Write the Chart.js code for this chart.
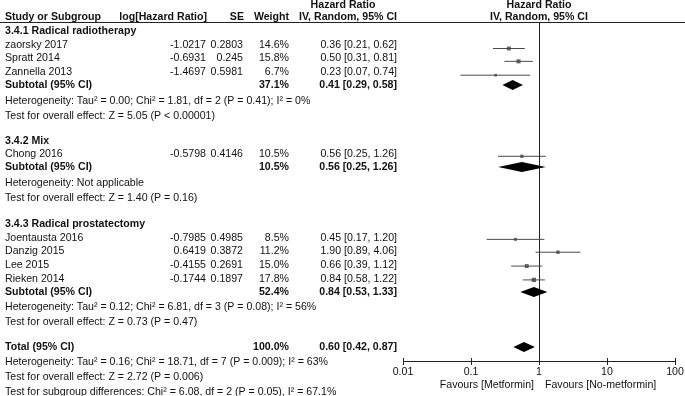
<!DOCTYPE html>
<html>
<head>
<meta charset="utf-8">
<script src="https://cdn.jsdelivr.net/npm/chart.js@4.4.1/dist/chart.umd.min.js"></script>
<style>
  html, body { margin: 0; padding: 0; background: #fff; }
  #wrap { width: 685px; height: 396px; position: relative; }
</style>
</head>
<body>
<div id="wrap"><canvas id="forest"></canvas></div>
<script>
// dados do forest plot
const studies = ["zaorsky 2017", "Spratt 2014", "Zannella 2013", "Chong 2016",
  "Joentausta 2016", "Danzig 2015", "Lee 2015", "Rieken 2014"];
const studyGroup = [0, 0, 0, 1, 2, 2, 2, 2];
const logHR = ["-1.0217", "-0.6931", "-1.4697", "-0.5798", "-0.7985", "0.6419", "-0.4155", "-0.1744"];
const seVals = ["0.2803", "0.245", "0.5981", "0.4146", "0.4985", "0.3872", "0.2691", "0.1897"];
const weights = [14.6, 15.8, 6.7, 10.5, 8.5, 11.2, 15.0, 17.8];
const hr = [0.36, 0.50, 0.23, 0.56, 0.45, 1.90, 0.66, 0.84];
const ciLow = [0.21, 0.31, 0.07, 0.25, 0.17, 0.89, 0.39, 0.58];
const ciHigh = [0.62, 0.81, 0.74, 1.26, 1.20, 4.06, 1.12, 1.22];

const subgroups = ["3.4.1 Radical radiotherapy", "3.4.2 Mix", "3.4.3 Radical prostatectomy"];
const subWeight = [37.1, 10.5, 52.4];
const subHR = [0.41, 0.56, 0.84];
const subLow = [0.29, 0.25, 0.53];
const subHigh = [0.58, 1.26, 1.33];
const subHet = [
  "Heterogeneity: Tau\u00b2 = 0.00; Chi\u00b2 = 1.81, df = 2 (P = 0.41); I\u00b2 = 0%",
  "Heterogeneity: Not applicable",
  "Heterogeneity: Tau\u00b2 = 0.12; Chi\u00b2 = 6.81, df = 3 (P = 0.08); I\u00b2 = 56%"
];
const subTest = [
  "Test for overall effect: Z = 5.05 (P < 0.00001)",
  "Test for overall effect: Z = 1.40 (P = 0.16)",
  "Test for overall effect: Z = 0.73 (P = 0.47)"
];

const totalWeight = 100.0;
const totalHR = 0.60, totalLow = 0.42, totalHigh = 0.87;
const totalNotes = [
  "Heterogeneity: Tau\u00b2 = 0.16; Chi\u00b2 = 18.71, df = 7 (P = 0.009); I\u00b2 = 63%",
  "Test for overall effect: Z = 2.72 (P = 0.006)",
  "Test for subgroup differences: Chi\u00b2 = 6.08, df = 2 (P = 0.05), I\u00b2 = 67.1%"
];

const tickVals = [0.01, 0.1, 1, 10, 100];
const tickLabels = ["0.01", "0.1", "1", "10", "100"];
const favourLeft = "Favours [Metformin]";
const favourRight = "Favours [No-metformin]";

// layout (posições verticais das linhas, em px)
const Y_HEAD1 = 5, Y_HEAD2 = 17, Y_RULE = 22, Y_AXIS = 361;
const groupRowY = [31, 141, 224];
const studyRowY = [45, 58, 72, 154, 238, 251, 265, 279];
const subRowY = [85, 167, 292];
const hetRowY = [101, 183, 307];
const testRowY = [116, 198, 322];
const totalRowY = 347;
const totalNoteY = [362, 377, 392];

const FONT = '"Liberation Sans", Arial, sans-serif';
const FS = 10.6;
const TXT = "#111";
const COL = { name: 5, logHR: 206, se: 243, weight: 289, ci: 397, ciHead: 343 };

const fmt = v => v.toFixed(2);
const ciText = (e, l, h) => fmt(e) + " [" + fmt(l) + ", " + fmt(h) + "]";

// segmentos de IC (null separa as linhas)
const whiskers = [];
studies.forEach((s, i) => {
  whiskers.push({ x: ciLow[i], y: studyRowY[i] });
  whiskers.push({ x: ciHigh[i], y: studyRowY[i] });
  whiskers.push({ x: null, y: null });
});

const squares = studies.map((s, i) => ({ x: hr[i], y: studyRowY[i] }));
const squareRadius = weights.map(w => Math.sqrt(w) * 0.72);

/**
 * Desenha tabela, diamantes e eixo
 */
const forestPlugin = {
  id: "forestPlugin",
  beforeDatasetsDraw(chart) {
    const ctx = chart.ctx;
    const x = chart.scales.x;
    ctx.save();
    ctx.strokeStyle = "#222";
    ctx.lineWidth = 1;
    // linha do cabeçalho
    ctx.beginPath();
    ctx.moveTo(0, Y_RULE + 0.5);
    ctx.lineTo(chart.width, Y_RULE + 0.5);
    ctx.stroke();
    // linha vertical em 1
    const x1 = Math.round(x.getPixelForValue(1)) + 0.5;
    ctx.beginPath();
    ctx.moveTo(x1, Y_RULE);
    ctx.lineTo(x1, Y_AXIS);
    ctx.stroke();
    // eixo
    const xa = x.getPixelForValue(tickVals[0]);
    const xb = x.getPixelForValue(tickVals[tickVals.length - 1]);
    ctx.beginPath();
    ctx.moveTo(xa, Y_AXIS + 0.5);
    ctx.lineTo(xb, Y_AXIS + 0.5);
    tickVals.forEach(v => {
      const px = Math.round(x.getPixelForValue(v)) + 0.5;
      ctx.moveTo(px, Y_AXIS - 3);
      ctx.lineTo(px, Y_AXIS + 4);
    });
    ctx.stroke();
    ctx.restore();
  },
  afterDatasetsDraw(chart) {
    const ctx = chart.ctx;
    const x = chart.scales.x;
    ctx.save();
    ctx.fillStyle = TXT;
    ctx.textBaseline = "middle";
    const text = (s, px, py, align, bold) => {
      ctx.font = (bold ? "bold " : "") + FS + "px " + FONT;
      ctx.textAlign = align;
      ctx.fillText(s, px, py);
    };

    // cabeçalho
    text("Hazard Ratio", COL.ciHead, Y_HEAD1, "center", true);
    text("Study or Subgroup", COL.name, Y_HEAD2, "left", true);
    text("log[Hazard Ratio]", COL.logHR + 1, Y_HEAD2, "right", true);
    text("SE", COL.se + 1, Y_HEAD2, "right", true);
    text("Weight", COL.weight, Y_HEAD2, "right", true);
    text("IV, Random, 95% CI", COL.ci, Y_HEAD2, "right", true);
    const xc = (chart.chartArea.left + chart.chartArea.right) / 2;
    text("Hazard Ratio", xc, Y_HEAD1, "center", true);
    text("IV, Random, 95% CI", xc, Y_HEAD2, "center", true);

    // estudos
    studies.forEach((s, i) => {
      const y = studyRowY[i];
      text(s, COL.name, y, "left", false);
      text(logHR[i], COL.logHR, y, "right", false);
      text(seVals[i], COL.se, y, "right", false);
      text(weights[i].toFixed(1) + "%", COL.weight, y, "right", false);
      text(ciText(hr[i], ciLow[i], ciHigh[i]), COL.ci, y, "right", false);
    });

    // subgrupos
    const diamond = (est, lo, hi, y) => {
      ctx.beginPath();
      ctx.moveTo(x.getPixelForValue(lo), y);
      ctx.lineTo(x.getPixelForValue(est), y - 5);
      ctx.lineTo(x.getPixelForValue(hi), y);
      ctx.lineTo(x.getPixelForValue(est), y + 5);
      ctx.closePath();
      ctx.fillStyle = "#000";
      ctx.fill();
      ctx.fillStyle = TXT;
    };
    subgroups.forEach((g, k) => {
      text(g, COL.name, groupRowY[k], "left", true);
      text("Subtotal (95% CI)", COL.name, subRowY[k], "left", true);
      text(subWeight[k].toFixed(1) + "%", COL.weight, subRowY[k], "right", true);
      text(ciText(subHR[k], subLow[k], subHigh[k]), COL.ci, subRowY[k], "right", true);
      text(subHet[k], COL.name, hetRowY[k], "left", false);
      text(subTest[k], COL.name, testRowY[k], "left", false);
      diamond(subHR[k], subLow[k], subHigh[k], subRowY[k]);
    });

    // total
    text("Total (95% CI)", COL.name, totalRowY, "left", true);
    text(totalWeight.toFixed(1) + "%", COL.weight, totalRowY, "right", true);
    text(ciText(totalHR, totalLow, totalHigh), COL.ci, totalRowY, "right", true);
    diamond(totalHR, totalLow, totalHigh, totalRowY);
    totalNotes.forEach((s, k) => text(s, COL.name, totalNoteY[k], "left", false));

    // eixo: rótulos
    tickVals.forEach((v, k) => {
      text(tickLabels[k], x.getPixelForValue(v), Y_AXIS + 11, "center", false);
    });
    const x1 = x.getPixelForValue(1);
    text(favourLeft, x1 - 5, Y_AXIS + 24, "right", false);
    text(favourRight, x1 + 6, Y_AXIS + 24, "left", false);
    ctx.restore();
  }
};

window.onload = () => {
  const ctx = document.getElementById("forest").getContext("2d");
  new Chart(ctx, {
    data: {
      datasets: [
        {
          type: "line",
          data: whiskers,
          borderColor: "#4a4a4a",
          borderWidth: 1,
          pointRadius: 0,
          spanGaps: false,
          fill: false
        },
        {
          type: "scatter",
          data: squares,
          pointStyle: "rect",
          pointRadius: squareRadius,
          pointBorderWidth: 0,
          backgroundColor: "#666",
          borderColor: "#666"
        }
      ]
    },
    options: {
      responsive: true,
      maintainAspectRatio: false,
      animation: false,
      events: [],
      layout: { padding: { left: 403, right: 10, top: 0, bottom: 396 - Y_AXIS } },
      plugins: { legend: { display: false }, tooltip: { enabled: false } },
      scales: {
        x: { type: "logarithmic", min: tickVals[0], max: tickVals[tickVals.length - 1], display: false },
        y: { type: "linear", min: 0, max: Y_AXIS, reverse: true, display: false }
      }
    },
    plugins: [forestPlugin]
  });
};
</script>
</body>
</html>
